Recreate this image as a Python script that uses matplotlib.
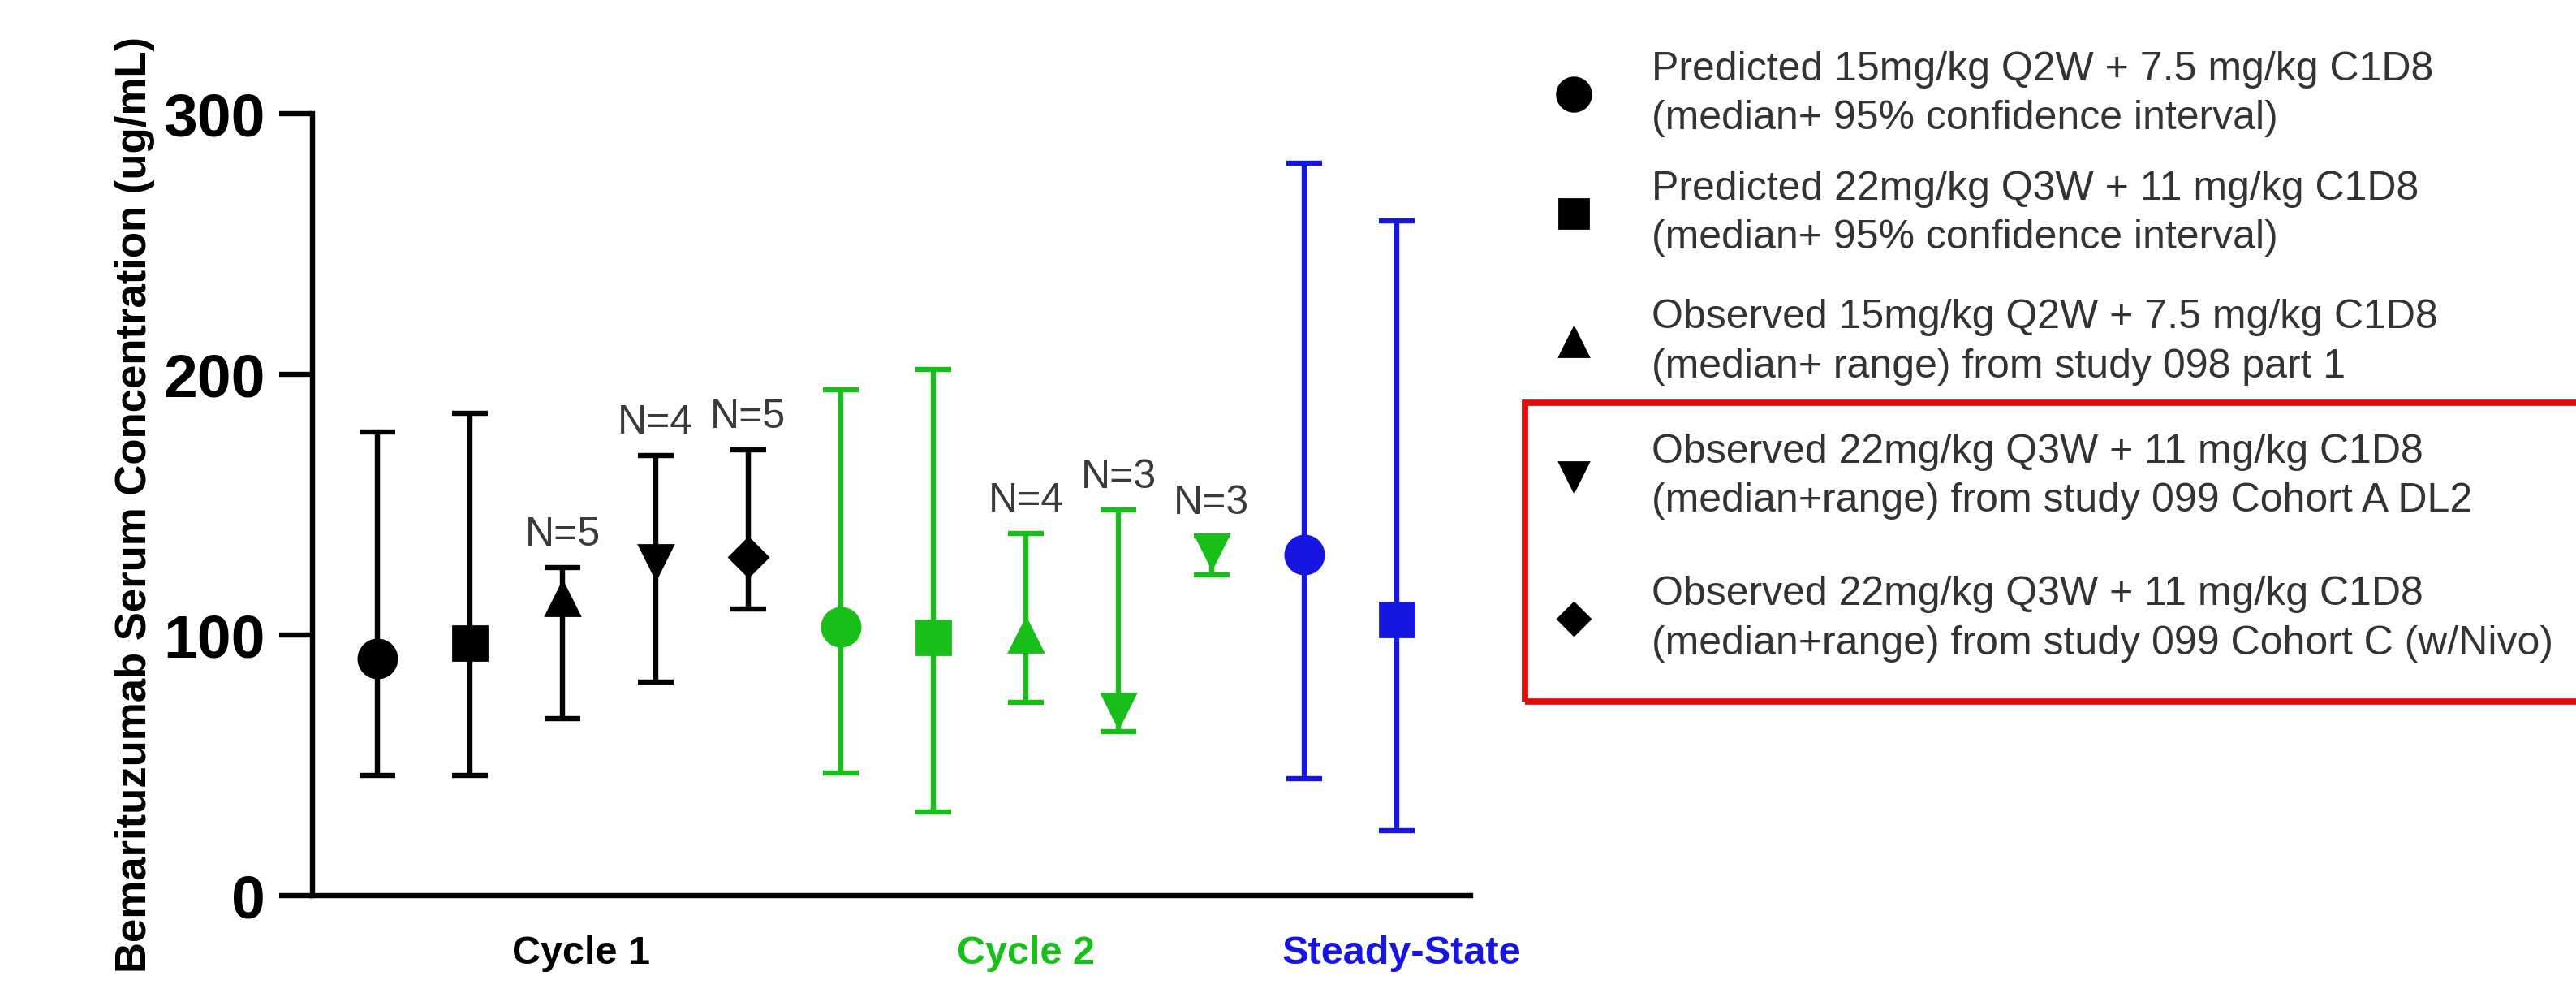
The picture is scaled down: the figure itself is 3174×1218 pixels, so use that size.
import numpy as np
import matplotlib
matplotlib.use("Agg")
import matplotlib.pyplot as plt
from matplotlib.lines import Line2D
from matplotlib.patches import Rectangle

plt.rcParams['font.family'] = ['Liberation Sans', 'DejaVu Sans']

# data: median with lower / upper bound, 12 points in 3 groups
groups = ['Cycle 1', 'Cycle 2', 'Steady-State']
median = [91, 97, 114, 128, 130, 103, 99, 100, 71, 132, 131, 106]
low = [46, 46, 68, 82, 110, 47, 32, 74, 63, 123, 45, 25]
high = [178, 185, 126, 169, 171, 194, 202, 139, 148, 138, 281, 259]
point_group = [0, 0, 0, 0, 0, 1, 1, 1, 1, 1, 2, 2]
point_series = [0, 1, 2, 3, 4, 0, 1, 2, 3, 3, 0, 1]
n_labels = ['', '', 'N=5', 'N=4', 'N=5', '', '', 'N=4', 'N=3', 'N=3', '', '']

legend_labels = [
    "Predicted 15mg/kg Q2W + 7.5 mg/kg C1D8\n(median+ 95% confidence interval)",
    "Predicted 22mg/kg Q3W + 11 mg/kg C1D8\n(median+ 95% confidence interval)",
    "Observed 15mg/kg Q2W + 7.5 mg/kg C1D8\n(median+ range) from study 098 part 1",
    "Observed 22mg/kg Q3W + 11 mg/kg C1D8\n(median+range) from study 099 Cohort A DL2",
    "Observed 22mg/kg Q3W + 11 mg/kg C1D8\n(median+range) from study 099 Cohort C (w/Nivo)",
]

group_colors = ['#000000', '#18bf18', '#1616e0']
series_markers = ['o', 's', '^', 'v', 'D']
series_msize = [17, 15, 15, 15, 12]

fig = plt.figure(figsize=(15.87, 6.09), dpi=200)
ax = fig.add_axes([0.1213, 0.0944, 0.4497, 0.7906])

x = np.arange(1, len(median) + 1)
for i in range(len(median)):
    c = group_colors[point_group[i]]
    s = point_series[i]
    err = [[median[i] - low[i]], [high[i] - median[i]]]
    ax.errorbar(x[i], median[i], yerr=err, fmt=series_markers[s],
                color=c, ecolor=c, ms=series_msize[s], elinewidth=2.3,
                capsize=7.8, capthick=2.3, clip_on=False, zorder=3)
    if n_labels[i]:
        ax.annotate(n_labels[i], (x[i], high[i]), xytext=(0, 6),
                    textcoords='offset points', ha='center', va='bottom',
                    fontsize=18, color='#3a3a3a')

ax.set_xlim(0.3, 12.8)
ax.set_ylim(0, 300)
ax.set_yticks([0, 100, 200, 300])
ax.tick_params(axis='y', length=14.8, width=2.3, pad=6, labelsize=27)
for lab in ax.get_yticklabels():
    lab.set_fontweight('bold')
ax.set_xticks([])
for sp in ['top', 'right']:
    ax.spines[sp].set_visible(False)
ax.spines['left'].set_linewidth(2.3)
ax.spines['bottom'].set_linewidth(2.3)
ax.set_ylabel('Bemarituzumab Serum Concentration (ug/mL)', fontsize=19,
              fontweight='bold', labelpad=4)

# group labels under the axis
group_x = [3.2, 8.0, 12.05]
for g, name in enumerate(groups):
    ax.annotate(name, (group_x[g], -0.074), xycoords=('data', 'axes fraction'),
                ha='center', va='center', fontsize=17.5, fontweight='bold',
                color=group_colors[g])

# legend drawn by hand
leg_y = [0.905, 0.784, 0.654, 0.518, 0.374]
for k, lab in enumerate(legend_labels):
    fig.add_artist(Line2D([0.611], [leg_y[k]], marker=series_markers[k],
                          color='black', ms=series_msize[k] - 2, linestyle='none'))
    fig.text(0.641, leg_y[k], lab, ha='left', va='center', fontsize=18,
             color='#333333', linespacing=1.4)

fig.add_artist(Rectangle((0.592, 0.291), 0.42, 0.302, transform=fig.transFigure,
                         fill=False, edgecolor='#e00d0d', linewidth=2.8,
                         clip_on=False))

fig.savefig('out.png', dpi=200, facecolor='white')
